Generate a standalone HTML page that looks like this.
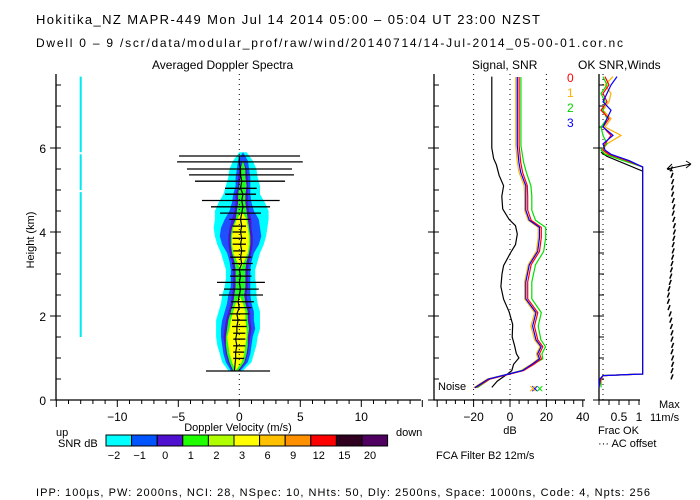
<!DOCTYPE html>
<html><head><meta charset="utf-8"><style>
html,body{margin:0;padding:0;background:#fff}
svg{display:block;font-family:"Liberation Sans",sans-serif}
</style></head><body>
<svg id="c" width="700" height="500" viewBox="0 0 700 500" xmlns="http://www.w3.org/2000/svg">
<rect width="700" height="500" fill="#fff"/>
<text x="36" y="24" font-size="13" textLength="504">Hokitika_NZ  MAPR-449  Mon Jul 14 2014 05:00 – 05:04 UT 23:00 NZST</text>
<text x="36" y="47" font-size="12" textLength="587">Dwell  0 – 9   /scr/data/modular_prof/raw/wind/20140714/14-Jul-2014_05-00-01.cor.nc</text>
<text x="152" y="69" font-size="12">Averaged Doppler Spectra</text>
<text x="472" y="69" font-size="12">Signal, SNR</text>
<text x="578" y="69" font-size="12">OK SNR,Winds</text>
<text transform="translate(34,240) rotate(-90)" text-anchor="middle" font-size="11">Height (km)</text>
<text x="56" y="436" font-size="11">up</text>
<text x="238" y="431" font-size="11" text-anchor="middle">Doppler Velocity (m/s)</text>
<text x="396" y="436" font-size="11">down</text>
<text x="510" y="434" font-size="11" text-anchor="middle">dB</text>
<text x="598" y="434" font-size="11">Frac OK</text>
<text x="598" y="447" font-size="11">··· AC offset</text>
<text x="659" y="408" font-size="11">Max</text>
<text x="650" y="421" font-size="11">11m/s</text>
<text x="58" y="447" font-size="11">SNR dB</text>
<text x="436" y="459" font-size="11">FCA Filter B2 12m/s</text>
<text x="438" y="390" font-size="11">Noise</text>
<text x="36" y="496" font-size="11" textLength="614">IPP: 100µs,  PW: 2000ns,  NCI:  28,  NSpec: 10, NHts: 50,  Dly: 2500ns,  Space: 1000ns,  Code: 4,  Npts: 256</text>
<g id="g"></g>
</svg>
<script>
const specH=[0.7,0.9,1.1,1.3,1.5,1.7,1.9,2.1,2.3,2.5,2.7,2.9,3.1,3.3,3.5,3.7,3.9,4.1,4.3,4.5,4.7,4.9,5.1,5.3,5.5,5.7,5.9];
const specC=[-0.3,-0.2,-0.2,-0.2,-0.2,-0.1,-0.1,0,0,0,0.1,0.1,0.1,0.1,0.1,0.1,0.1,0.1,0.2,0.2,0.2,0.2,0.3,0.3,0.3,0.3,0.3];
const wCyan=[0.6,1.2,1.4,1.6,1.7,1.8,1.8,1.7,1.5,1.4,1.3,1.2,1.2,1.4,1.6,1.9,2.1,2.2,2.2,2.2,1.9,1.5,1.4,1.2,1.1,0.8,0.3];
const wBlue=[0.4,0.9,1.1,1.2,1.3,1.4,1.3,1.2,1.0,0.9,0.8,0.8,0.8,0.9,1.1,1.5,1.7,1.6,1.4,1.0,0.8,0.7,0.6,0.6,0.5,0.4,0];
const wPurple=[0.3,0.7,0.9,1.0,1.1,1.1,1.0,0.9,0.7,0.6,0.6,0.6,0.6,0.7,0.9,1.0,1.0,0.9,0.8,0.6,0.5,0.5,0.4,0.4,0.3,0,0];
const wGreen=[0.2,0.6,0.8,0.9,0.9,0.9,0.8,0.7,0.5,0.4,0.4,0.4,0.4,0.5,0.7,0.8,0.8,0.7,0.5,0.4,0.3,0.3,0.3,0.2,0.2,0,0];
const wYellow=[0,0.4,0.6,0.7,0.8,0.7,0.6,0.5,0.3,0,0,0,0,0.3,0.6,0.7,0.7,0.6,0.4,0,0,0,0,0,0,0,0];
const barH=[5.81,5.67,5.5,5.36,5.21,5.04,4.9,4.75,4.6,4.45,4.3,4.14,4.0,3.85,3.71,3.55,3.4,3.25,3.1,2.95,2.8,2.64,2.5,2.34,2.2,2.05,1.9,1.75,1.59,1.45,1.29,1.14,0.99,0.69];
const barL=[-4.94,-5.1,-4.29,-4.12,-3.63,-1.17,-1.17,-3.06,-2.32,-1.58,-0.82,-0.55,-0.55,-0.55,-0.55,-0.5,-0.76,-0.6,-0.6,-0.76,-1.83,-1.25,-1.66,-0.68,-0.68,-0.76,-0.6,-0.6,-0.5,-0.5,-0.5,-0.5,-0.5,-2.73];
const barR=[4.98,5.2,4.32,4.48,3.75,1.43,1.37,3.31,2.52,1.78,0.88,0.55,0.55,0.55,0.55,0.5,1.0,1.1,0.95,1.0,2.1,1.6,1.94,1.2,1.0,0.8,0.6,0.6,0.5,0.5,0.5,0.4,0.4,2.52];
const meanV=[0,0,0.1,0.1,0.2,0.1,0.3,0.2,0.3,0.2,0.1,0.2,0.1,0.2,0.1,0.2,0.1,0.2,0,0.1,0,0.1,0,-0.1,0,-0.2,-0.1,-0.2,-0.2,-0.3,-0.2,-0.3,-0.3,-0.4];
const noiseH=[1.5,4.95,5.0,5.85,5.9,7.7];
const sigH=[0.3,0.45,0.6,0.7,0.85,1.0,1.1,1.3,1.5,1.8,2.1,2.4,2.7,3.0,3.2,3.5,3.7,3.95,4.15,4.3,4.55,4.85,5.1,5.35,5.6,5.75,6.0,7.7];
const sigDB=[-10,-7,-2,1,2,4.9,3.5,2.5,1.2,1.5,-0.5,-3.5,-5,-4.4,-3.5,0.2,3,4,3,-0.5,-4,-4.5,-3.5,-6,-7.5,-9,-10,-10];
const snrH=[0.29,0.5,0.62,0.7,0.86,0.98,1.1,1.27,1.43,1.76,2.08,2.41,2.81,3.22,3.54,3.87,4.11,4.28,4.52,4.85,5.1,5.42,5.66,6.06,7.69];
const snr0=[-19,-11,0,7.5,13.5,17.2,16.2,18,15.3,13.4,15.3,9.7,9.7,11.6,16.2,17.2,17.2,11.6,9.7,9.7,9.5,6.9,5.9,5,5];
const snr1=[-20,-12.5,-1,6,12,15.5,14.5,16.5,13.5,11.5,13.5,8,8,10,14.5,15.5,15.5,10,8,8,7.8,5,4,3.2,3.2];
const snr2=[-18,-11,-0.5,6.5,13,18,17.5,19.5,17,15.5,17.2,12,12,14,18.5,19.6,19.6,14,12,12,11.5,9,7.5,6,6];
const snr3=[-19.4,-11.9,-0.7,6.8,12.4,16.2,15.2,17.1,14.3,12.4,14.3,8.7,8.7,10.6,15.2,16.2,16.2,10.6,8.7,8.7,8.7,5.9,4.9,4.0,4.0];
const fracH=[0.3,0.5,0.58,0.62,5.55,5.7,5.85,5.95,6.1,6.3,6.5,6.7,6.9,7.1,7.3,7.5,7.7];
const frac0=[0,0.05,0.1,1.09,1.09,0.7,0.25,0.1,0.15,0.3,0.1,0.25,0.05,0.2,0.1,0.25,0.15];
const frac1=[0,0.05,0.1,1.09,1.09,0.65,0.2,0.1,0.2,0.55,0.15,0.3,0.1,0.25,0.3,0.15,0.35];
const frac2=[0.05,0.05,0.1,1.09,1.09,0.6,0.15,0.05,0.2,0.1,0.05,0.2,0.1,0.15,0.05,0.2,0.1];
const frac3=[0,0.02,0.1,1.09,1.09,0.75,0.3,0.15,0.1,0.35,0.1,0.2,0.3,0.1,0.2,0.3,0.45];
const fracKH=[0.6,5.45,5.8,5.9];
const fracK=[1.09,1.09,0.2,0.05];
const windH=[0.55,0.7,0.85,1.0,1.15,1.3,1.45,1.6,1.75,1.9,2.05,2.2,2.35,2.5,2.65,2.8,2.95,3.1,3.25,3.4,3.55,3.7,3.85,4.0,4.15,4.3,4.45,4.6,4.75,4.9,5.05,5.2,5.35,5.5];
const windU=[0,0,0.1,0.1,0,0.1,0,0,-0.1,-0.2,-0.3,-0.5,-0.6,-0.6,-0.5,-0.3,-0.2,-0.1,0,0.1,0.2,0.2,0.3,0.4,0.4,0.3,0.2,0.3,0.2,0.1,0.1,0.1,0,-0.1];
const cbLabels=["-2","-1","0","1","2","3","6","9","12","15","20"];
const cbColors=["#00ffff","#0055ff","#5010d0","#20ff00","#b0ff00","#ffff00","#ffc000","#ff9000","#ff0000","#300020","#500060"];

const NS="http://www.w3.org/2000/svg";
const G=document.getElementById('g');
function mk(t,a,p){const e=document.createElementNS(NS,t);for(const k in a)e.setAttribute(k,a[k]);(p||G).appendChild(e);return e;}
const Y=h=>400-42*h, X=v=>239.3+12.2*v, XS=d=>510+1.82*d, XW=f=>599+40*f;

const levels=[[wCyan,"#00ffff"],[wBlue,"#1e50ff"],[wPurple,"#5010d0"],[wGreen,"#20ff20"],[wYellow,"#ffff00"]];
levels.forEach((L,i)=>{
  const w=L[0];let pts=[];
  specH.forEach((h,j)=>pts.push(X(specC[j]+w[j]).toFixed(1)+","+Y(h).toFixed(1)));
  for(let j=specH.length-1;j>=0;j--)pts.push(X(specC[j]-w[j]).toFixed(1)+","+Y(specH[j]).toFixed(1));
  const p=mk('polygon',{points:pts.join(' '),fill:L[1]});
  
  
});
const zl=mk('line',{x1:X(0),y1:74,x2:X(0),y2:400,stroke:'#000','stroke-dasharray':'1,4'});


for(let i=0;i<noiseH.length-1;i+=2){
  const n=mk('line',{x1:X(-13),y1:Y(noiseH[i]),x2:X(-13),y2:Y(noiseH[i+1]),stroke:'#00e8f0','stroke-width':2});
  
  
}
barH.forEach((h,i)=>{
  const b=mk('line',{x1:X(barL[i]),y1:Y(h),x2:X(barR[i]),y2:Y(h),stroke:'#000','stroke-width':1.3});
  
  
});
const mv=mk('polyline',{points:barH.map((h,i)=>X(meanV[i])+","+Y(h)).join(' '),fill:'none',stroke:'#000','stroke-width':1.2});



function axis(x0,x1,name){
  const a=mk('path',{d:`M${x0},74V400H${x1}`,fill:'none',stroke:'#000','stroke-width':1.3});
  
  
  for(let h=0;h<=7.5;h+=0.5){const big=h%2===0;mk('line',{x1:x0-(big?6:0),x2:x0+5,y1:Y(h),y2:Y(h),stroke:'#000'});}
}
axis(56,421,'spectra-axes');axis(434,585,'signal-axes');axis(599,640,'winds-axes');
[0,2,4,6].forEach(h=>{const t=mk('text',{x:46,y:Y(h)+5,'font-size':12,'text-anchor':'end'});t.textContent=h;
});
for(let v=-15;v<=15;v++){const big=v%5===0;mk('line',{x1:X(v),x2:X(v),y1:400,y2:400+(big?7:4),stroke:'#000'});
 if(big&&Math.abs(v)<15){const t=mk('text',{x:X(v),y:421,'font-size':12,'text-anchor':'middle'});t.textContent=v===0?'0':(v<0?'−'+(-v):v);
 }}
for(let d=-40;d<=40;d+=5){if(XS(d)<434)continue;mk('line',{x1:XS(d),x2:XS(d),y1:400,y2:400+(d%20===0?7:4),stroke:'#000'});}
[-20,0,20,40].forEach(d=>{const t=mk('text',{x:XS(d),y:421,'font-size':12,'text-anchor':'middle'});t.textContent=d<0?'−'+(-d):d;

if(d<40){const l=mk('line',{x1:XS(d),x2:XS(d),y1:74,y2:400,stroke:'#000','stroke-dasharray':'1,4'});}});
for(let f=0;f<=1;f+=0.25)mk('line',{x1:XW(f),x2:XW(f),y1:400,y2:405,stroke:'#000'});
[[0.5,'0.5'],[1,'1']].forEach(a=>{const t=mk('text',{x:XW(a[0]),y:421,'font-size':12,'text-anchor':'middle'});t.textContent=a[1];
});
const ac=mk('line',{x1:XW(0.1),x2:XW(0.1),y1:74,y2:400,stroke:'#000','stroke-dasharray':'1,4'});


function line(hs,vs,sx,col,name,w){const p=mk('polyline',{points:hs.map((h,i)=>sx(vs[i]).toFixed(1)+","+Y(h).toFixed(1)).join(' '),fill:'none',stroke:col,'stroke-width':w||1.2});
}
line(sigH,sigDB,XS,'#000','signal-line');
line(snrH,snr1,XS,'#ffb000','snr-beam-1');line(snrH,snr2,XS,'#00e000','snr-beam-2');
line(snrH,snr0,XS,'#ff0000','snr-beam-0');line(snrH,snr3,XS,'#0000ff','snr-beam-3');
[['#0000ff',531],['#ffb000',529],['#00e000',536]].forEach(c=>{const t=mk('text',{x:c[1],y:393,'font-size':13,fill:c[0]});t.textContent='×';
});
line(fracKH,fracK,XW,'#000','frac-ok-total');
line(fracH,frac1,XW,'#ffb000','frac-ok-1');line(fracH,frac2,XW,'#00e000','frac-ok-2');
line(fracH,frac0,XW,'#ff0000','frac-ok-0');line(fracH,frac3,XW,'#0000ff','frac-ok-3');
[['0','#ff0000',82],['1','#ffb000',97],['2','#00d000',112],['3','#0000ff',127]].forEach(a=>{const t=mk('text',{x:567,y:a[2],'font-size':12,fill:a[1]});t.textContent=a[0];
});
windH.forEach((h,i)=>{const x=672+windU[i]*6;const s=mk('line',{x1:x-1,y1:Y(h)+2.5,x2:x+1,y2:Y(h)-2.5,stroke:'#000','stroke-width':1.5});
});
const ar=mk('path',{d:'M667,169L691,164M667,169l5,-5M667,169l6,2M691,164l-5,-3M691,164l-5,4',stroke:'#000',fill:'none'});

cbColors.forEach((c,i)=>{const r=mk('rect',{x:106+i*25.6,y:435,width:25.6,height:11,fill:c,stroke:'#000','stroke-width':1});

const t=mk('text',{x:114+i*25.6,y:459,'font-size':11,'text-anchor':'middle'});t.textContent=cbLabels[i].replace('-','−');
});
</script>
</body></html>
